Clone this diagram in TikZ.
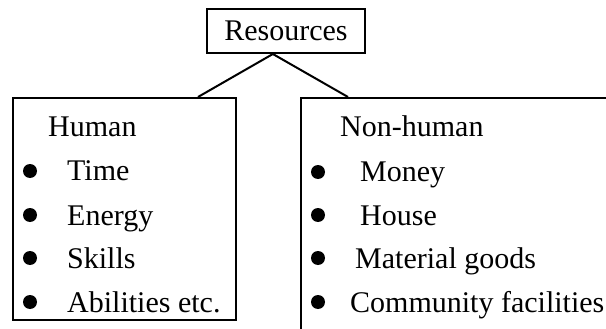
\documentclass[tikz,border=0pt]{standalone}
\usepackage{fontspec}
\setmainfont{Liberation Serif}
\usetikzlibrary{calc}
\begin{document}
\begin{tikzpicture}[x=1pt,y=-1pt,
  boxln/.style={draw, line width=2pt, inner sep=0pt},
  txt/.style={anchor=base west, inner sep=0pt, font=\fontsize{30}{30}\selectfont},
  bul/.style={circle, fill=black, inner sep=0pt, minimum size=14pt}]
\useasboundingbox (0,0) rectangle (606,329);
\clip (0,0) rectangle (606,329);
\node[boxln, minimum width=158pt, minimum height=44pt, anchor=north west,
      font=\fontsize{30}{30}\selectfont] (res) at (206,8) {Resources};
\node[boxln, minimum width=223pt, minimum height=222pt, anchor=north west] (human) at (12,97) {};
\node[boxln, minimum width=340pt, minimum height=260pt, anchor=north west] (nonhuman) at (300,97) {};
\coordinate (apex) at ($(res.south west)!0.418!(res.south east)$);
\coordinate (hj) at (198,97);
\coordinate (nj) at (348,97);
\draw[line width=2pt] (apex) -- (hj);
\draw[line width=2pt] (apex) -- (nj);
% Human
\node[txt] (h0) at (48,137) {Human};
\node[bul] (hb1) at (30,171) {};
\node[bul] (hb2) at (30,215) {};
\node[bul] (hb3) at (30,258) {};
\node[bul] (hb4) at (30,302) {};
\node[txt] (h1) at (67,180) {Time};
\node[txt] (h2) at (67,225) {Energy};
\node[txt] (h3) at (67,268) {Skills};
\node[txt] (h4) at (67,312) {Abilities etc.};
% Non-human
\node[txt] (n0) at (340,137) {Non-human};
\node[bul] (nb1) at (318,172) {};
\node[bul] (nb2) at (318,215) {};
\node[bul] (nb3) at (318,258) {};
\node[bul] (nb4) at (318,302) {};
\node[txt] (n1) at (360,182) {Money};
\node[txt] (n2) at (360,225) {House};
\node[txt] (n3) at (355,268) {Material goods};
\node[txt] (n4) at (350,312) {Community facilities.};
\end{tikzpicture}
\end{document}
